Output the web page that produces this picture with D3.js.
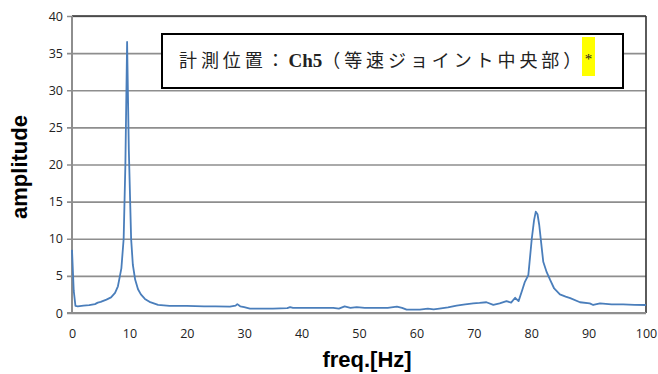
<!DOCTYPE html>
<html>
<head>
<meta charset="utf-8">
<script src="https://cdn.jsdelivr.net/npm/d3@7"></script>
<style>
  body { margin: 0; background: #fff; }
  svg { display: block; }
</style>
</head>
<body>
<svg id="chart" width="658" height="374"></svg>
<script>
// spectrum
var freq = [0, 0.3, 0.6, 1, 2, 3, 4, 4.5, 5, 6, 6.8, 7.5, 8, 8.3, 8.6, 9, 9.3, 9.6, 9.9, 10.3, 10.6, 11, 11.5, 12, 12.7, 13.5, 15, 17, 20, 23, 25, 27.5, 28.5, 28.8, 29.3, 30, 31, 35, 37.5, 38, 38.5, 42, 45.5, 46.5, 47.5, 48.5, 49.6, 51, 55, 56.6, 57.5, 58.3, 60.6, 62, 63, 64, 65.5, 67, 68.5, 69.9, 71, 72.2, 73.4, 74.5, 75.7, 76.5, 77.2, 77.8, 78.4, 78.9, 79.5, 80.1, 80.5, 80.8, 81.1, 81.4, 81.8, 82.1, 82.7, 83.3, 84, 85, 86, 86.8, 88.5, 90.2, 90.8, 92, 94, 96, 98, 100];
var amplitude = [8.5, 3, 0.95, 0.9, 1.0, 1.05, 1.2, 1.4, 1.5, 1.8, 2.1, 2.7, 3.6, 4.8, 6, 10, 20, 36.5, 22, 10, 6.5, 4.5, 3.2, 2.5, 1.9, 1.5, 1.1, 0.95, 0.95, 0.9, 0.9, 0.85, 1.0, 1.2, 0.9, 0.8, 0.6, 0.6, 0.65, 0.8, 0.7, 0.7, 0.7, 0.6, 0.9, 0.7, 0.8, 0.7, 0.7, 0.85, 0.7, 0.45, 0.45, 0.6, 0.5, 0.6, 0.75, 1.0, 1.15, 1.3, 1.35, 1.45, 1.1, 1.3, 1.6, 1.4, 2.05, 1.6, 3.0, 4.2, 5.1, 10, 12.5, 13.65, 13.3, 11.85, 9, 6.9, 5.5, 4.45, 3.3, 2.5, 2.2, 2.0, 1.45, 1.3, 1.08, 1.3, 1.15, 1.15, 1.1, 1.08];
var xTicks = [0, 10, 20, 30, 40, 50, 60, 70, 80, 90, 100];
var yTicks = [0, 5, 10, 15, 20, 25, 30, 35, 40];
var labelParts = ['計測位置：', 'Ch5', '（等速ジョイント中央部）'];

var svg = d3.select('#chart');
var pl = 72, pr = 646, pt = 16, pb = 313;

var x = d3.scaleLinear().domain([0, 100]).range([pl, pr]);
var y = d3.scaleLinear().domain([0, 40]).range([pb, pt]);

// horizontal grid + left ticks
svg.append('g')
    .attr('transform', 'translate(' + pl + ',0)')
    .call(d3.axisLeft(y).tickValues(yTicks).tickSize(-(pr - pl)).tickPadding(9).tickFormat(d3.format('d')))
    .call(function(g) {
        g.select('.domain').remove();
        g.selectAll('.tick line').attr('stroke', '#8e8e8e').attr('stroke-width', 1.6).attr('x1', -5);
        g.selectAll('.tick text').attr('fill', '#222').style('font', '12.5px "Open Sans", sans-serif');
    });

// x axis labels
svg.append('g')
    .attr('transform', 'translate(0,' + pb + ')')
    .call(d3.axisBottom(x).tickValues(xTicks).tickSize(0).tickPadding(16))
    .call(function(g) {
        g.select('.domain').remove();
        g.selectAll('.tick text').attr('fill', '#222').style('font', '12.5px "Open Sans", sans-serif');
    });

// plot frame: gray left/bottom axes, dark top/right border
svg.append('line').attr('x1', pl).attr('x2', pr).attr('y1', pt).attr('y2', pt)
    .attr('stroke', '#333').attr('stroke-width', 1.6);
svg.append('line').attr('x1', pr).attr('x2', pr).attr('y1', pt).attr('y2', pb)
    .attr('stroke', '#333').attr('stroke-width', 1.6);
svg.append('line').attr('x1', pl).attr('x2', pl).attr('y1', pt).attr('y2', pb + 1)
    .attr('stroke', '#8e8e8e').attr('stroke-width', 2);
svg.append('line').attr('x1', pl - 5).attr('x2', pr).attr('y1', pb).attr('y2', pb)
    .attr('stroke', '#8e8e8e').attr('stroke-width', 2.2);

var pts = freq.map(function(f, i) { return [f, amplitude[i]]; });
var line = d3.line()
    .x(function(d) { return x(d[0]); })
    .y(function(d) { return y(d[1]); });

svg.append('path')
    .datum(pts)
    .attr('d', line)
    .attr('fill', 'none')
    .attr('stroke', '#4a7ebb')
    .attr('stroke-width', 1.8)
    .attr('stroke-linejoin', 'round');

// annotation box
svg.append('rect').attr('x', 162).attr('y', 34).attr('width', 461).attr('height', 54)
    .attr('fill', '#fff').attr('stroke', '#000').attr('stroke-width', 2);
var label = svg.append('text').attr('x', 179).attr('y', 67)
    .style('font', '18px "Noto Sans CJK JP", serif')
    .attr('fill', '#222');
label.append('tspan').style('letter-spacing', '3.9px').text(labelParts[0]);
label.append('tspan').style('font', '600 19px "Liberation Serif", serif').text(labelParts[1]);
label.append('tspan').style('letter-spacing', '3.9px').text(labelParts[2]);
svg.append('rect').attr('x', 582).attr('y', 37).attr('width', 13).attr('height', 39).attr('fill', '#ffff00');
svg.append('text').attr('x', 588.5).attr('y', 64).attr('text-anchor', 'middle')
    .style('font', '15px "Liberation Serif", serif').attr('fill', '#222').text('*');

// axis titles
svg.append('text').attr('x', 367).attr('y', 367).attr('text-anchor', 'middle')
    .style('font', 'bold 22px "Liberation Sans", Arial, sans-serif').text('freq.[Hz]');
svg.append('text').attr('transform', 'translate(27,167) rotate(-90)').attr('text-anchor', 'middle')
    .style('font', 'bold 22px "Liberation Sans", Arial, sans-serif').text('amplitude');
</script>
</body>
</html>
